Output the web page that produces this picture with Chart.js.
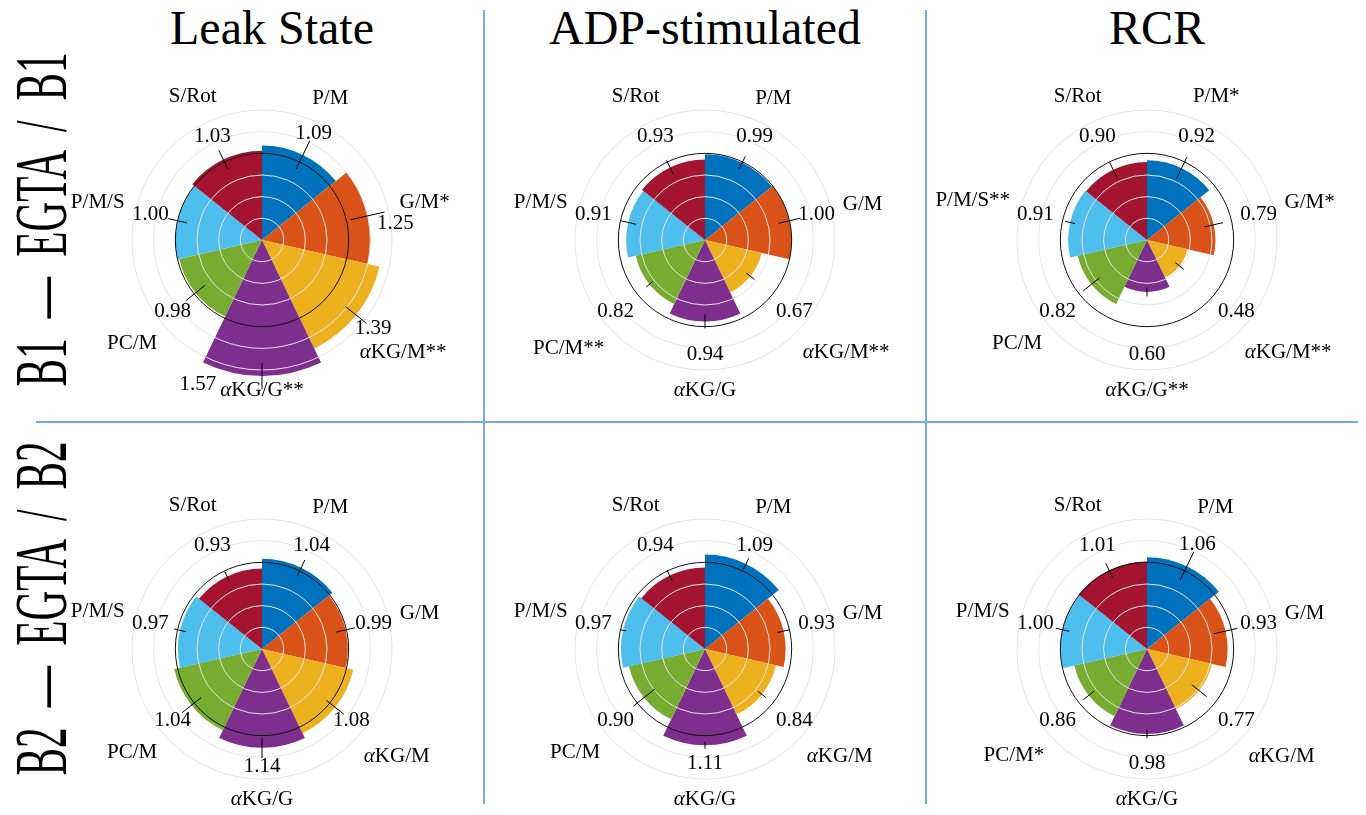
<!DOCTYPE html>
<html>
<head>
<meta charset="utf-8">
<script src="https://cdn.jsdelivr.net/npm/chart.js@4.4.0/dist/chart.umd.min.js"></script>
<style>
    html, body { margin: 0; padding: 0; background: #fff; width: 1366px; height: 815px; overflow: hidden; }
    body { position: relative; font-family: "Liberation Serif", "Times New Roman", serif; color: #000; }
    .title { position: absolute; top: 4px; width: 400px; font-size: 48px; line-height: 48px; text-align: center; white-space: nowrap; }
    .rowLabel { position: absolute; width: 600px; height: 75px; font-size: 75px; line-height: 75px; text-align: center;
        white-space: nowrap; word-spacing: 18px; transform: rotate(-90deg) scaleX(0.55); }
    .divider { position: absolute; background: #78aadf; }
    canvas { position: absolute; }
</style>
</head>
<body>
<div class="title" style="left:72px">Leak State</div>
<div class="title" style="left:505px">ADP-stimulated</div>
<div class="title" style="left:957px">RCR</div>
<div class="rowLabel" style="left:-260px;top:184px">B1 — EGTA / B1</div>
<div class="rowLabel" style="left:-260px;top:573px">B2 — EGTA / B2</div>
<div class="divider" style="left:483px;top:10px;width:1.5px;height:794px"></div>
<div class="divider" style="left:925px;top:10px;width:1.5px;height:794px"></div>
<div class="divider" style="left:36px;top:421px;width:1322px;height:1.5px"></div>
<script>
// substrates, clockwise from the top
const categories = ['P/M', 'G/M', 'αKG/M', 'αKG/G', 'PC/M', 'P/M/S', 'S/Rot'];
const colors = ['#0072BD', '#D95319', '#EDB120', '#7E2F8E', '#77AC30', '#4DBEEE', '#A2142F'];

// B1 - EGTA / B1
const b1LeakValues = [1.09, 1.25, 1.39, 1.57, 0.98, 1.00, 1.03];
const b1LeakErrors = [0.18, 0.20, 0.15, 0.15, 0.14, 0.11, 0.12];
const b1LeakStars  = ['', '*', '**', '**', '', '', ''];
const b1AdpValues  = [0.99, 1.00, 0.67, 0.94, 0.82, 0.91, 0.93];
const b1AdpErrors  = [0.08, 0.13, 0.06, 0.08, 0.05, 0.09, 0.09];
const b1AdpStars   = ['', '', '**', '', '**', '', ''];
const b1RcrValues  = [0.92, 0.79, 0.48, 0.60, 0.82, 0.91, 0.90];
const b1RcrErrors  = [0.14, 0.11, 0.06, 0.05, 0.12, 0.06, 0.10];
const b1RcrStars   = ['*', '*', '**', '**', '', '**', ''];

// B2 - EGTA / B2
const b2LeakValues = [1.04, 0.99, 1.08, 1.14, 1.04, 0.97, 0.93];
const b2LeakErrors = [0.10, 0.11, 0.13, 0.12, 0.14, 0.07, 0.06];
const b2LeakStars  = ['', '', '', '', '', '', ''];
const b2AdpValues  = [1.09, 0.93, 0.84, 1.11, 0.90, 0.97, 0.94];
const b2AdpErrors  = [0.07, 0.07, 0.06, 0.04, 0.16, 0.035, 0.07];
const b2AdpStars   = ['', '', '', '', '', '', ''];
const b2RcrValues  = [1.06, 0.93, 0.77, 0.98, 0.86, 1.00, 1.01];
const b2RcrErrors  = [0.18, 0.14, 0.11, 0.05, 0.08, 0.08, 0.09];
const b2RcrStars   = ['', '', '', '', '*', '', ''];

const FONT = '21px "Liberation Serif", "Times New Roman", serif';

function labelWidth(ctx, text) {
    if (text.startsWith('α')) {
        ctx.font = 'italic ' + FONT;
        const w = ctx.measureText('α').width;
        ctx.font = FONT;
        return w + ctx.measureText(text.slice(1)).width;
    }
    ctx.font = FONT;
    return ctx.measureText(text).width;
}

function drawLabel(ctx, text, x, y) {
    const w = labelWidth(ctx, text);
    let sx = x - w / 2;
    ctx.textAlign = 'left';
    ctx.textBaseline = 'middle';
    if (text.startsWith('α')) {
        ctx.font = 'italic ' + FONT;
        ctx.fillText('α', sx, y);
        sx += ctx.measureText('α').width;
        ctx.font = FONT;
        ctx.fillText(text.slice(1), sx, y);
    } else {
        ctx.font = FONT;
        ctx.fillText(text, sx, y);
    }
}

function boxesOverlap(a, b) {
    return Math.abs(a.x - b.x) < (a.w + b.w) / 2 && Math.abs(a.y - b.y) < (a.h + b.h) / 2;
}

// error bars, value labels and substrate labels
const polarLabels = {
    id: 'polarLabels',
    afterDraw(chart, args, options) {
        const scale = chart.scales.r;
        const ctx = chart.ctx;
        const values = chart.data.datasets[0].data;
        const errors = options.errors;
        const textH = 21;
        const rCat = scale.drawingArea + 10;
        ctx.save();
        ctx.fillStyle = '#000';
        ctx.strokeStyle = '#000';
        ctx.lineWidth = 1;
        for (let i = 0; i < values.length; i++) {
            const a = scale.getIndexAngle(i + 0.5) - Math.PI / 2;
            const cosA = Math.cos(a), sinA = Math.sin(a);

            const r0 = scale.getDistanceFromCenterForValue(values[i] - errors[i]);
            const r1 = scale.getDistanceFromCenterForValue(values[i] + errors[i]);
            ctx.beginPath();
            ctx.moveTo(scale.xCenter + cosA * r0, scale.yCenter + sinA * r0);
            ctx.lineTo(scale.xCenter + cosA * r1, scale.yCenter + sinA * r1);
            ctx.stroke();

            const catText = chart.data.labels[i];
            const cw = labelWidth(ctx, catText);
            const dCat = rCat + Math.abs(cosA) * cw / 2 + Math.abs(sinA) * textH / 2;
            const catBox = { x: scale.xCenter + cosA * dCat, y: scale.yCenter + sinA * dCat, w: cw, h: textH };
            drawLabel(ctx, catText, catBox.x, catBox.y);

            const valText = values[i].toFixed(2);
            const vw = labelWidth(ctx, valText);
            const dVal = scale.getDistanceFromCenterForValue(Math.max(1.32, values[i] + errors[i] + 0.1));
            let shift = 0, valBox;
            do {
                valBox = { x: scale.xCenter + Math.cos(a + shift) * dVal, y: scale.yCenter + Math.sin(a + shift) * dVal, w: vw, h: textH };
                shift += Math.PI / 90;
            } while (boxesOverlap(valBox, catBox) && shift < Math.PI / 4);
            drawLabel(ctx, valText, valBox.x, valBox.y);
        }
        ctx.restore();
    }
};

function makePanel(cx, cy, values, errors, stars) {
    const canvas = document.createElement('canvas');
    canvas.width = 436;
    canvas.height = 360;
    canvas.style.left = (cx - 218) + 'px';
    canvas.style.top = (cy - 180) + 'px';
    document.body.appendChild(canvas);
    const labels = categories.map((c, i) => c + stars[i]);
    return new Chart(canvas.getContext('2d'), {
        type: 'polarArea',
        data: {
            labels: labels,
            datasets: [{
                data: values,
                backgroundColor: colors,
                borderWidth: 0,
                clip: false
            }]
        },
        plugins: [polarLabels],
        options: {
            responsive: false,
            animation: false,
            layout: { padding: { left: 88, right: 88, top: 50, bottom: 50 } },
            plugins: {
                legend: { display: false },
                tooltip: { enabled: false },
                polarLabels: { errors: errors }
            },
            scales: {
                r: {
                    min: 0,
                    max: 1.5,
                    ticks: { display: false, stepSize: 0.25, z: 1 },
                    grid: {
                        z: 1,
                        circular: true,
                        color: (c) => (c.tick && Math.abs(c.tick.value - 1) < 1e-6) ? '#111' : '#e4e4e4',
                        lineWidth: 1
                    },
                    angleLines: { display: false },
                    pointLabels: { display: false }
                }
            }
        }
    });
}

makePanel(262, 240, b1LeakValues, b1LeakErrors, b1LeakStars);
makePanel(705, 240, b1AdpValues, b1AdpErrors, b1AdpStars);
makePanel(1147, 240, b1RcrValues, b1RcrErrors, b1RcrStars);
makePanel(262, 649, b2LeakValues, b2LeakErrors, b2LeakStars);
makePanel(705, 649, b2AdpValues, b2AdpErrors, b2AdpStars);
makePanel(1147, 649, b2RcrValues, b2RcrErrors, b2RcrStars);
</script>
</body>
</html>
